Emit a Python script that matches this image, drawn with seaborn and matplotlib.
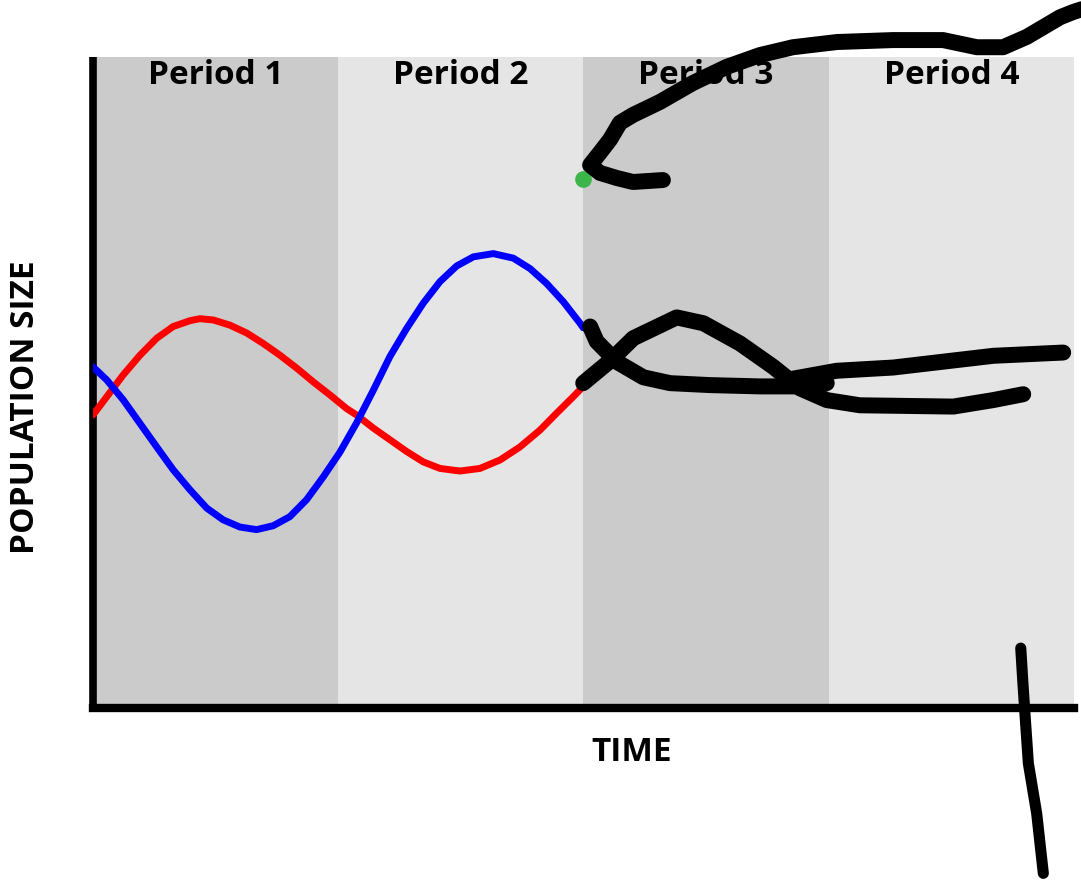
import matplotlib
matplotlib.use("Agg")
import matplotlib.pyplot as plt
import seaborn as sns
import numpy as np
import pandas as pd

# Period bands and labels
periods = ["Period 1", "Period 2", "Period 3", "Period 4"]
band_colors = ["#cbcbcb", "#e5e5e5", "#cbcbcb", "#e5e5e5"]

# Red population (time in periods, size in % of axis height)
red_t = [0.0, 0.056, 0.124, 0.192, 0.260, 0.327, 0.396, 0.436, 0.491, 0.559,
         0.627, 0.694, 0.762, 0.831, 0.898, 0.966, 1.034, 1.075, 1.143, 1.211,
         1.279, 1.347, 1.415, 1.496, 1.578, 1.660, 1.741, 1.823, 1.891, 1.958, 1.999]
red_p = [45.0, 47.8, 51.2, 54.2, 56.8, 58.6, 59.5, 59.8, 59.6, 58.8,
         57.6, 56.0, 54.2, 52.2, 50.1, 48.1, 46.0, 45.0, 43.0, 41.2,
         39.4, 37.8, 36.8, 36.4, 36.8, 38.1, 40.1, 42.7, 45.3, 47.8, 49.4]

# Blue population
blue_t = [0.0, 0.056, 0.124, 0.192, 0.260, 0.327, 0.396, 0.464, 0.531, 0.599,
          0.667, 0.735, 0.803, 0.871, 0.939, 1.007, 1.075, 1.143, 1.211, 1.279,
          1.347, 1.415, 1.483, 1.551, 1.632, 1.714, 1.782, 1.850, 1.918, 1.986, 1.999]
blue_p = [52.4, 50.4, 47.3, 43.7, 40.1, 36.6, 33.5, 30.7, 28.9, 27.8,
          27.4, 28.0, 29.4, 32.0, 35.5, 39.3, 43.8, 48.8, 54.0, 58.3,
          62.2, 65.5, 67.9, 69.3, 69.8, 69.1, 67.5, 65.2, 62.4, 59.1, 58.4]

# Green dot
dot_t = [1.998]
dot_p = [81.3]

# Hand drawn black strokes
stroke_top_t = [2.324, 2.202, 2.137, 2.067, 2.027, 2.067, 2.108, 2.149, 2.202, 2.312,
                2.446, 2.585, 2.720, 2.854, 3.034, 3.262, 3.466, 3.604, 3.711, 3.808,
                3.943, 3.996, 4.045]
stroke_top_p = [81.1, 80.8, 81.4, 82.2, 83.4, 85.3, 87.3, 89.9, 91.1, 93.1,
                96.0, 98.5, 100.3, 101.5, 102.3, 102.6, 102.6, 101.5, 101.5, 103.1,
                106.1, 106.9, 107.5]
stroke_a_t = [2.027, 2.054, 2.135, 2.244, 2.353, 2.516, 2.720, 2.856, 2.992]
stroke_a_p = [58.6, 56.3, 53.2, 50.8, 49.9, 49.6, 49.4, 49.4, 49.9]
stroke_b_t = [1.999, 2.108, 2.203, 2.380, 2.489, 2.638, 2.774, 2.883, 2.992, 3.127,
              3.508, 3.671, 3.793]
stroke_b_p = [49.9, 53.3, 56.8, 60.0, 59.1, 56.0, 52.4, 49.1, 47.3, 46.5,
              46.3, 47.3, 48.2]
stroke_c_t = [2.842, 3.032, 3.263, 3.399, 3.671, 3.956]
stroke_c_p = [50.5, 51.8, 52.3, 52.9, 54.1, 54.6]
stroke_v_t = [3.783, 3.791, 3.800, 3.814, 3.848, 3.875]
stroke_v_p = [9.2, 4.3, -0.8, -8.5, -16.2, -25.4]

sns.set_theme(style="white")
plt.rcParams["font.family"] = ["Open Sans", "DejaVu Sans"]

fig = plt.figure(figsize=(10.81, 8.85), dpi=100)
ax = fig.add_axes([0.086, 0.2, 0.9075, 0.7356])

# shaded period bands
for i, (name, col) in enumerate(zip(periods, band_colors)):
    ax.axvspan(i, i + 1, color=col, lw=0, zorder=0)
    ax.text(i + 0.5, 97.1, name, ha="center", va="center",
            fontsize=24, fontweight="bold", color="black")

df = pd.DataFrame({"t": red_t + blue_t,
                   "p": red_p + blue_p,
                   "species": ["red"] * len(red_t) + ["blue"] * len(blue_t)})
sns.lineplot(data=df, x="t", y="p", hue="species", palette={"red": "#ff0000", "blue": "#0000ff"},
             sort=False, estimator=None, lw=5, legend=False, ax=ax, zorder=3)
for ln in ax.lines:
    ln.set_solid_joinstyle("round")

# scribbles on top
for st, sp in [(stroke_top_t, stroke_top_p), (stroke_a_t, stroke_a_p),
               (stroke_b_t, stroke_b_p), (stroke_c_t, stroke_c_p)]:
    ax.plot(st, sp, color="black", lw=11.5, solid_capstyle="round",
            solid_joinstyle="round", clip_on=False, zorder=5)

ax.plot(stroke_v_t, stroke_v_p, color="black", lw=8, solid_capstyle="round",
        solid_joinstyle="round", clip_on=False, zorder=5)

ax.plot(dot_t, dot_p, "o", color="#3db54a", ms=11, zorder=4, clip_on=False)

ax.set_xlim(0, 4)
ax.set_ylim(0, 100)
ax.set_xticks([])
ax.set_yticks([])
ax.set_xlabel("")
ax.set_ylabel("")
for s in ["top", "right"]:
    ax.spines[s].set_visible(False)
ax.spines["left"].set_linewidth(5.5)
ax.spines["bottom"].set_linewidth(6)
ax.spines["left"].set_color("black")
ax.spines["bottom"].set_color("black")
ax.spines["left"].set_capstyle("butt")

ax.text(0.549, -0.069, "TIME", transform=ax.transAxes, ha="center", va="center",
        fontsize=24, fontweight="bold", color="black")
ax.text(-0.069, 0.462, "POPULATION SIZE", transform=ax.transAxes, ha="center",
        va="center", rotation=90, fontsize=24, fontweight="bold", color="black")

fig.savefig("out.png", dpi=100)
